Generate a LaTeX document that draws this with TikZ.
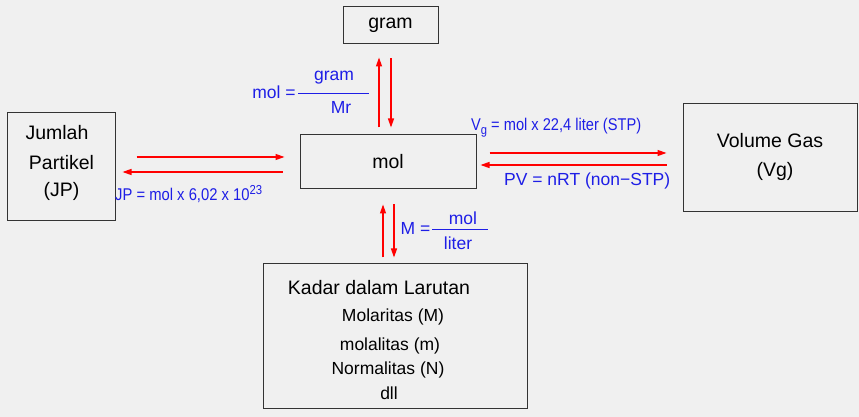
\documentclass[tikz,border=0pt]{standalone}
\usepackage{fontspec}
\setmainfont{Liberation Sans}
\usepackage{tikz}
\usetikzlibrary{positioning,calc,arrows.meta}
\definecolor{bggray}{HTML}{F0F0F0}
\definecolor{boxline}{HTML}{333333}
\definecolor{lblue}{HTML}{1E1EE6}

\begin{document}
\begin{tikzpicture}[x=1pt,y=1pt,
    box/.style={draw=boxline, line width=1pt, fill=bggray, inner sep=0pt},
    big/.style={font=\fontsize{19.5}{23}\selectfont},
    mid/.style={font=\fontsize{17.5}{21}\selectfont},
    lbl/.style={text=lblue, inner sep=0pt, font=\fontsize{17.5}{21}\selectfont},
    small/.style={text=lblue, inner sep=0pt, font=\fontsize{17}{20}\selectfont},
    arr/.style={red, line width=1.2pt, -{Triangle[length=9pt,width=6pt]}}]
    \fill[bggray] (0,0) rectangle (859,417);
    \useasboundingbox (0,0) rectangle (859,417);

      % Boxes
      \node[box, big, minimum width=95pt, minimum height=37pt] (gram) at (390.5, 391.5) {gram};
      \node[box, minimum width=108pt, minimum height=108pt] (jp) at (61, 250) {};
      \node[box, big, minimum width=176pt, minimum height=54pt] (mol) at (388, 255) {mol};
      \node[box, minimum width=174pt, minimum height=108pt] (vg) at (770, 259.5) {};
      \node[box, minimum width=264pt, minimum height=145pt] (kadar) at (395, 80.5) {};

      % Box texts
      \node[big] (jp1) at (57, 284) {Jumlah};
      \node[big] (jp2) at (61.5, 254) {Partikel};
      \node[big] (jp3) at (61.5, 226) {(JP)};

      \node[big] (vg1) at (770, 276) {Volume Gas};
      \node[big] (vg2) at (775, 246) {(Vg)};

      \node[big] (kd1) at (379, 129) {Kadar dalam Larutan};
      \node[mid] (kd2) at (393, 100) {Molaritas (M)};
      \node[mid] (kd3) at (390, 71) {molalitas (m)};
      \node[mid] (kd4) at (388, 47) {Normalitas (N)};
      \node[mid] (kd5) at (389, 24) {dll};

      % Arrows
      \draw[arr, shorten <=7pt, shorten >=13pt] ([xshift=-9pt]mol.north) -- ([xshift=-9pt]mol.north |- gram.south);
      \draw[arr, shorten <=14pt, shorten >=7pt] ([xshift=3pt]mol.north |- gram.south) -- ([xshift=3pt]mol.north);

      \draw[arr, shorten <=21pt, shorten >=15pt] ([yshift=5pt]mol.west -| jp.east) -- ([yshift=5pt]mol.west);
      \draw[arr, shorten <=17pt, shorten >=7pt] ([yshift=-10pt]mol.west) -- ([yshift=-10pt]mol.west -| jp.east);

      \draw[arr, shorten <=13pt, shorten >=16pt] ([yshift=9pt]mol.east) -- ([yshift=9pt]mol.east -| vg.west);
      \draw[arr, shorten <=16pt, shorten >=4pt] ([yshift=-3pt]mol.east -| vg.west) -- ([yshift=-3pt]mol.east);

      \draw[arr, shorten <=6pt, shorten >=15pt] ([xshift=-5pt]mol.south |- kadar.north) -- ([xshift=-5pt]mol.south);
      \draw[arr, shorten <=15pt, shorten >=6pt] ([xshift=6pt]mol.south) -- ([xshift=6pt]mol.south |- kadar.north);

      % Labels
      \node[lbl] (mr0) at (274, 325) {mol =};
      \node[lbl] (mr1) at (334, 339) {gram};
      \node[lbl] (mr2) at (341, 310) {Mr};
      \draw[lblue, line width=1pt] (298, 323) -- (369, 323);

      \node[small, anchor=west] (stp) at (471, 289) {\scalebox{0.86}[1]{V\raisebox{-4pt}{\fontsize{13}{13}\selectfont g} = mol x 22,4 liter (STP)}};
      \node[lbl, anchor=west] (nstp) at (504, 236) {PV = nRT (non\textminus STP)};
      \node[small, anchor=west] (avo) at (115, 223) {\scalebox{0.87}[1]{JP = mol x 6,02 x 10\raisebox{6pt}{\fontsize{13}{13}\selectfont 23}}};

      \node[lbl] (m0) at (415.5, 189) {M =};
      \node[lbl] (m1) at (463, 199) {mol};
      \node[lbl] (m2) at (458, 174) {liter};
      \draw[lblue, line width=1pt] (432, 187) -- (488, 187);
  \end{tikzpicture}
\end{document}
